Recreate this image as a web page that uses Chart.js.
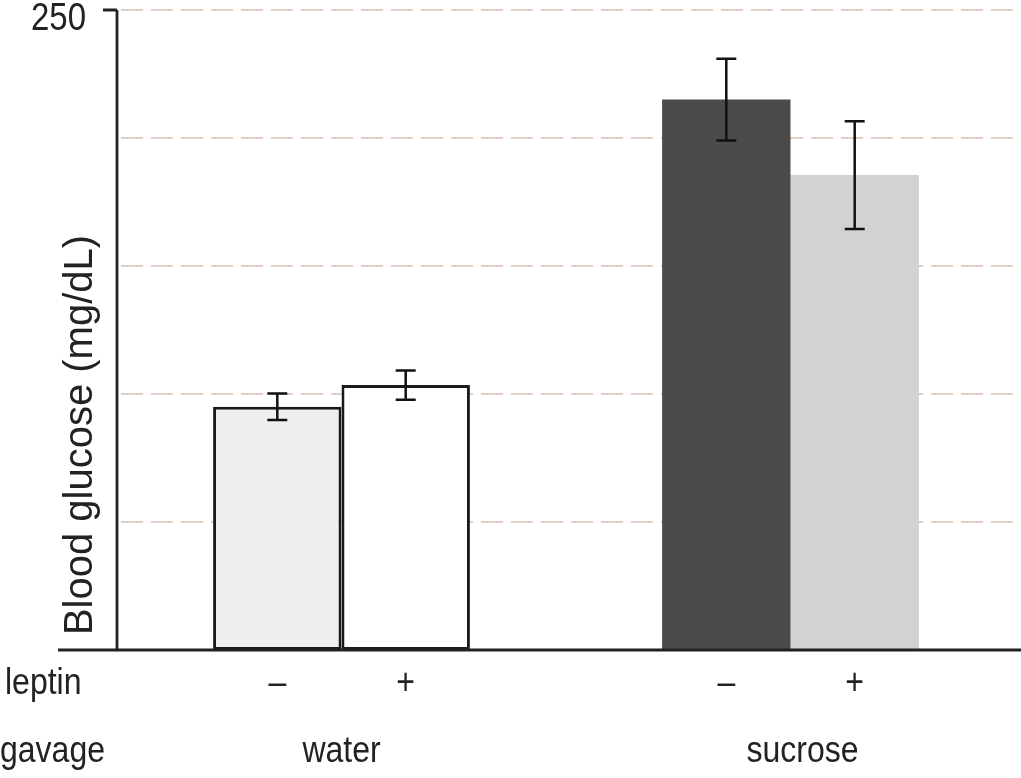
<!DOCTYPE html>
<html>
<head>
<meta charset="utf-8">
<title>Blood glucose</title>
<script src="https://cdn.jsdelivr.net/npm/chart.js@4"></script>
<style>
    body { margin: 0; background: #fff; }
    #wrap { width: 1021px; height: 778px; }
</style>
</head>
<body>
<div id="wrap"><canvas id="glucoseChart" width="1021" height="778"></canvas></div>
<script>
// Chart data
const gavageGroups = ['water', 'sucrose'];
const leptinMarks = ['–', '+'];
const meanNoLeptin = [95, 215];
const meanLeptin = [103.5, 185.5];
const errNoLeptin = [5.2, 16];
const errLeptin = [5.7, 21];
const yTickValues = [50, 100, 150, 200, 250];
const yTickLabels = { 250: '250' };

const FONT = '"Liberation Sans", Arial, sans-serif';
const INK = '#222';

// grid lines, axes, error bars and labels
const decorPlugin = {
    id: 'decor',
    beforeDatasetsDraw(chart) {
        const ctx = chart.ctx;
        const y = chart.scales.y;
        const area = chart.chartArea;
        ctx.save();
        ctx.strokeStyle = '#e3cfc3';
        ctx.lineWidth = 2;
        ctx.setLineDash([22, 8]);
        yTickValues.forEach(v => {
            const py = Math.round(y.getPixelForValue(v));
            ctx.beginPath();
            ctx.moveTo(area.left + 4, py);
            ctx.lineTo(chart.width, py);
            ctx.stroke();
        });
        ctx.restore();
    },
    afterDatasetsDraw(chart) {
        const ctx = chart.ctx;
        const y = chart.scales.y;
        const area = chart.chartArea;
        const errs = [errNoLeptin, errLeptin];
        const means = [meanNoLeptin, meanLeptin];

        // error bars
        ctx.save();
        ctx.strokeStyle = '#111';
        ctx.lineWidth = 2.5;
        chart.data.datasets.forEach((ds, di) => {
            chart.getDatasetMeta(di).data.forEach((bar, i) => {
                const top = y.getPixelForValue(means[di][i] + errs[di][i]);
                const bot = y.getPixelForValue(means[di][i] - errs[di][i]);
                ctx.beginPath();
                ctx.moveTo(bar.x, top);
                ctx.lineTo(bar.x, bot);
                ctx.moveTo(bar.x - 10, top);
                ctx.lineTo(bar.x + 10, top);
                ctx.moveTo(bar.x - 10, bot);
                ctx.lineTo(bar.x + 10, bot);
                ctx.stroke();
            });
        });

        // axes
        ctx.strokeStyle = '#222';
        ctx.lineWidth = 2.8;
        ctx.beginPath();
        ctx.moveTo(area.left, area.top);
        ctx.lineTo(area.left, area.bottom);
        ctx.moveTo(58, area.bottom);
        ctx.lineTo(chart.width, area.bottom);
        Object.keys(yTickLabels).forEach(v => {
            const py = y.getPixelForValue(+v);
            ctx.moveTo(area.left - 14, py);
            ctx.lineTo(area.left, py);
        });
        ctx.stroke();
        ctx.restore();
    },
    afterDraw(chart) {
        const ctx = chart.ctx;
        const x = chart.scales.x;
        const y = chart.scales.y;
        ctx.save();
        ctx.fillStyle = INK;

        const stretched = (text, px, py, size, align) => {
            ctx.save();
            ctx.translate(px, py);
            ctx.scale(1, 1.15);
            ctx.font = size + 'px ' + FONT;
            ctx.textAlign = align;
            ctx.textBaseline = 'middle';
            ctx.fillText(text, 0, 0);
            ctx.restore();
        };

        // y tick labels
        Object.keys(yTickLabels).forEach(v => {
            stretched(yTickLabels[v], 86, y.getPixelForValue(+v) + 10, 33, 'right');
        });

        // leptin row
        stretched('leptin', 5, 684, 32, 'left');
        chart.data.datasets.forEach((ds, di) => {
            chart.getDatasetMeta(di).data.forEach(bar => {
                stretched(leptinMarks[di], bar.x, 684, 32, 'center');
            });
        });

        // gavage row
        stretched('gavage', 0, 752, 32, 'left');
        gavageGroups.forEach((g, i) => {
            stretched(g, x.getPixelForValue(i) + (i ? 12 : 0), 752, 32, 'center');
        });

        // y title
        ctx.translate(81, 435);
        ctx.rotate(-Math.PI / 2);
        ctx.font = '40px ' + FONT;
        ctx.textAlign = 'center';
        ctx.textBaseline = 'middle';
        ctx.fillText('Blood glucose (mg/dL)', 0, 0);
        ctx.restore();
    }
};

const ctxGlucose = document.getElementById('glucoseChart').getContext('2d');

const glucoseChart = new Chart(ctxGlucose, {
    type: 'bar',
    data: {
        labels: gavageGroups,
        datasets: [{
            label: 'leptin –',
            data: meanNoLeptin,
            backgroundColor: ['#efefef', '#4b4b4b'],
            borderColor: '#1a1a1a',
            borderWidth: [3, 0],
            borderSkipped: false,
        }, {
            label: 'leptin +',
            data: meanLeptin,
            backgroundColor: ['#ffffff', '#d2d2d2'],
            borderColor: '#1a1a1a',
            borderWidth: [3, 0],
            borderSkipped: false,
        }]
    },
    options: {
        responsive: false,
        animation: false,
        layout: {
            padding: { top: 10, left: 0, right: 6, bottom: 0 },
        },
        datasets: {
            bar: {
                categoryPercentage: 0.572,
                barPercentage: 1,
            },
        },
        scales: {
            x: {
                grid: { display: false },
                border: { display: false },
                ticks: { display: false },
                afterFit(scale) { scale.height = 128; },
            },
            y: {
                min: 0,
                max: 250,
                grid: { display: false },
                border: { display: false },
                ticks: { display: false, stepSize: 50 },
                afterFit(scale) { scale.width = 117; },
            },
        },
        plugins: {
            legend: { display: false },
            tooltip: { enabled: false },
        },
    },
    plugins: [decorPlugin],
});
</script>
</body>
</html>
